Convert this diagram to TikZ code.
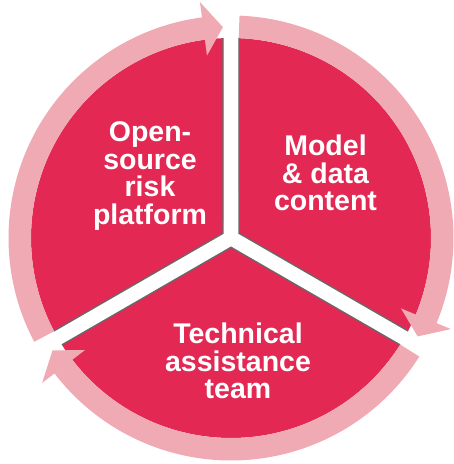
\documentclass[tikz,border=0pt]{standalone}
\usepackage{fontspec}
\setmainfont{Liberation Sans}
\definecolor{sectorred}{RGB}{227,40,83}
\definecolor{cyclepink}{RGB}{239,170,179}
\definecolor{edgegray}{RGB}{105,105,105}
\begin{document}
\begin{tikzpicture}[x=1pt,y=1pt,
  sector/.style={fill=sectorred},
  edgeline/.style={draw=edgegray, line width=1.3pt},
  cyclearrow/.style={fill=cyclepink},
  lbl/.style={text=white, font=\fontsize{28.5}{27.8}\selectfont\bfseries, align=center, inner sep=0pt}]
\useasboundingbox (0,0) rectangle (454,464);
\begin{scope}[shift={(231,226)}]
  % three pie sectors separated by white gaps along the rays 90, 210 and 330 degrees
  \foreach \a in {90,210,330}{
    \pgfmathsetmacro\b{\a+120}
    \pgfmathsetmacro\m{\a+60}
    \pgfmathsetmacro\sa{\a+2.29}
    \pgfmathsetmacro\sb{\b-2.29}
    \fill[sector] (\m:9.24) -- (\sa:200) arc[start angle=\sa, end angle=\sb, radius=200] -- cycle;
    \draw[edgeline] (\sa:200) -- (\m:9.24) -- (\sb:200);
  }
  % circular arrows running clockwise around the pie
  \foreach \g in {90,-30,-150}{
    \pgfmathsetmacro\s{\g+117.8}
    \pgfmathsetmacro\e{\g+7.5}
    \pgfmathsetmacro\t{\g+2.2}
    \fill[cyclearrow] (\s:222.5) arc[start angle=\s, end angle=\e, radius=222.5]
      -- (\e:238) -- (\t:211) -- (\e:184) -- (\e:200)
      arc[start angle=\e, end angle=\s, radius=200] -- cycle;
  }
\end{scope}
\node[lbl] (platform) at (150,288) {Open-\\source\\risk\\platform};
\node[lbl] (content) at (325.5,291) {Model\\\& data\\content};
\node[lbl] (team) at (238,103) {Technical\\assistance\\team};
\end{tikzpicture}
\end{document}
